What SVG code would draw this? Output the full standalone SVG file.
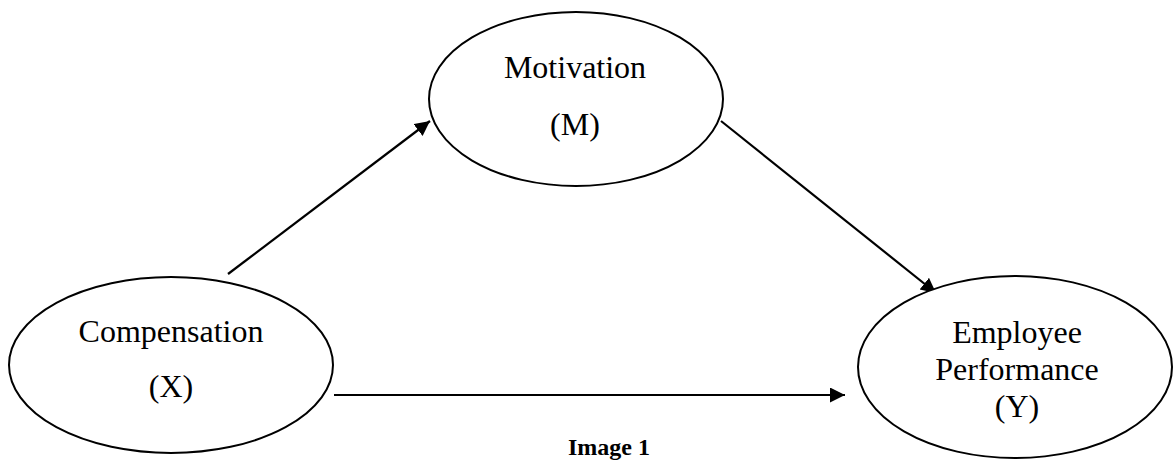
<svg xmlns="http://www.w3.org/2000/svg" width="1174" height="460" viewBox="0 0 1174 460">
<style>
.node{fill:#fff;stroke:#000;stroke-width:2}
.lbl{font-family:"Liberation Serif","Times New Roman",serif;font-size:32px;fill:#000;text-anchor:middle}
.cap{font-family:"Liberation Serif","Times New Roman",serif;font-size:24px;font-weight:bold;fill:#000;text-anchor:middle}
.edge{stroke:#000;stroke-width:2.2;fill:none;marker-end:url(#ah)}
</style>
<defs>
<marker id="ah" markerUnits="userSpaceOnUse" markerWidth="16" markerHeight="16" refX="15" refY="7.5" orient="auto">
<path d="M0,0 L15,7.5 L0,15 z" fill="#000"/>
</marker>
</defs>
<rect width="1174" height="460" fill="#fff"/>
<g id="connectors">
<line class="edge" x1="228" y1="274" x2="430" y2="121"/>
<line class="edge" x1="721" y1="121" x2="936" y2="293"/>
<line class="edge" x1="334" y1="395" x2="845" y2="395"/>
</g>
<g id="motivation">
<ellipse class="node" cx="576" cy="99" rx="147" ry="87"/>
<text class="lbl" x="575" y="78">Motivation</text>
<text class="lbl" x="575" y="135">(M)</text>
</g>
<g id="compensation">
<ellipse class="node" cx="171" cy="365" rx="162" ry="88"/>
<text class="lbl" x="171" y="342">Compensation</text>
<text class="lbl" x="171" y="397">(X)</text>
</g>
<g id="performance">
<ellipse class="node" cx="1015" cy="367" rx="157" ry="91"/>
<text class="lbl" x="1017" y="343">Employee</text>
<text class="lbl" x="1017" y="380">Performance</text>
<text class="lbl" x="1017" y="417">(Y)</text>
</g>
<text class="cap" x="609" y="455">Image 1</text>
</svg>
